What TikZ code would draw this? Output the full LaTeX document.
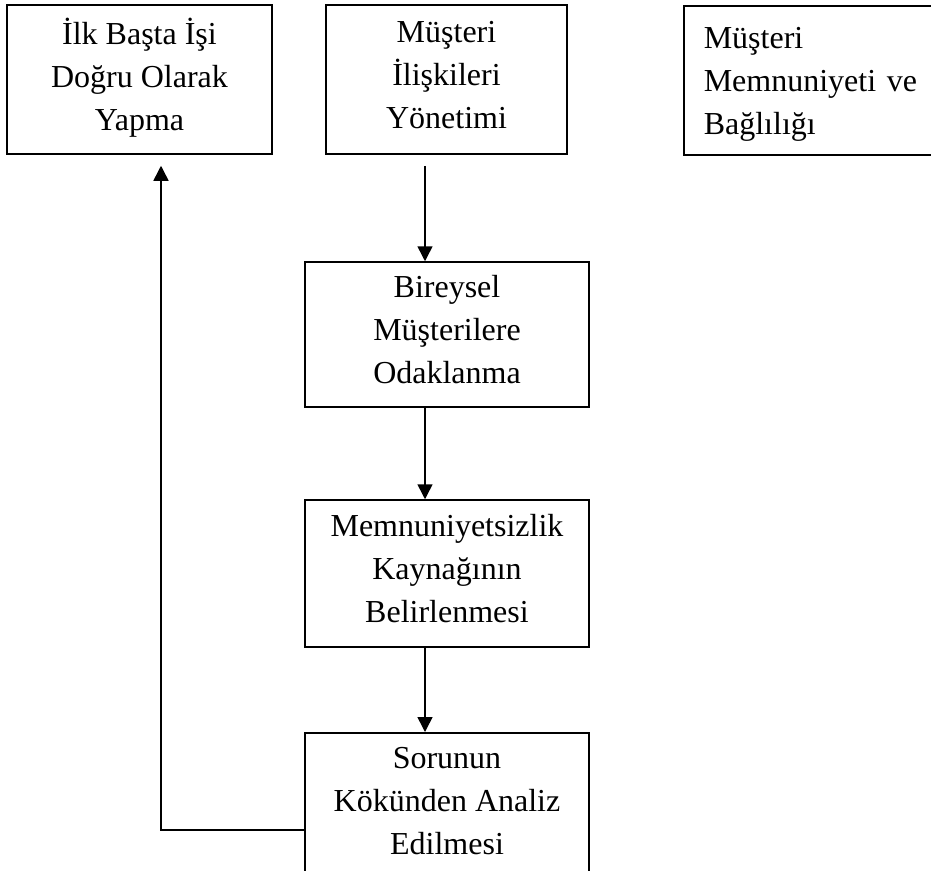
\documentclass[tikz,border=0pt]{standalone}
\usepackage{fontspec}
\setmainfont{Liberation Serif}
\usetikzlibrary{arrows.meta}

% invisible rule fixing the height of the first and the depth of the last line
\newcommand\linestrut{\rule[-9.5pt]{0pt}{42pt}}

\begin{document}
\begin{tikzpicture}[x=1pt, y=-1pt,
  box/.style={draw, line width=1.5pt, rectangle, inner sep=0pt, align=center,
    font=\fontsize{32}{43}\selectfont,
    execute at begin node=\linestrut, execute at end node=\linestrut},
  flow/.style={line width=1.5pt, -{Triangle[length=15pt,width=15pt]}}
]
  \useasboundingbox (0,0) rectangle (931,870);
  \clip (0,0) rectangle (931,870);

  % upper row
  \node[box, minimum width=265pt, minimum height=149pt] (b1) at (139.5,79.5)
    {İlk Başta İşi\\Doğru Olarak\\Yapma};
  \node[box, minimum width=241pt, minimum height=149pt] (b2) at (446.5,79.5)
    {Müşteri\\İlişkileri\\Yönetimi};
  \node[box, anchor=north west, align=left, text width=220pt, inner xsep=20pt,
        minimum height=149pt] (b3) at (683,5)
    {Müşteri\\Memnuniyeti ve\\Bağlılığı};

  % central column
  \node[box, minimum width=284pt, minimum height=145pt] (b4) at (447,334.5)
    {Bireysel\\Müşterilere\\Odaklanma};
  \node[box, minimum width=284pt, minimum height=147pt] (b5) at (447,573.5)
    {Memnuniyetsizlik\\Kaynağının\\Belirlenmesi};
  \node[box, anchor=north, minimum width=284pt, minimum height=145pt] (b6) at (447,732)
    {Sorunun\\Kökünden Analiz\\Edilmesi};

  % downward flow
  \draw[flow, shorten <=11pt] ([xshift=-21.5pt]b2.south) -- ([xshift=-22pt]b4.north);
  \draw[flow] ([xshift=-22pt]b4.south) -- ([xshift=-22pt]b5.north);
  \draw[flow] ([xshift=-22pt]b5.south) -- ([xshift=-22pt]b6.north);

  % feedback loop to the first box
  \coordinate (fb) at (161,830);
  \draw[flow, shorten >=11pt] (b6.west |- fb) -- (fb) -- (fb |- b1.south);
\end{tikzpicture}
\end{document}
